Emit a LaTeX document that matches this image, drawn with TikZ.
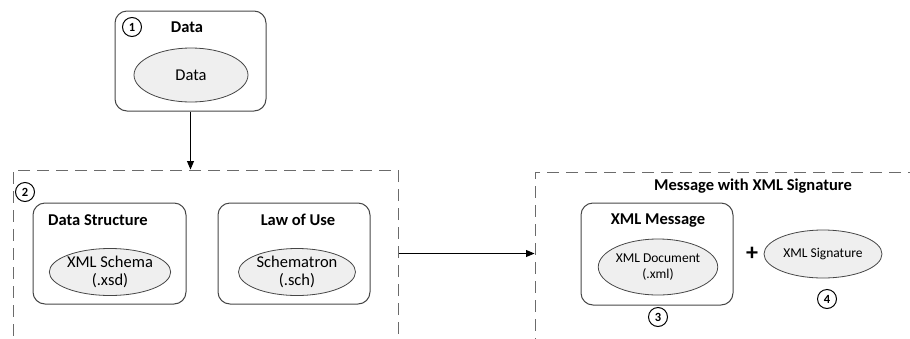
\documentclass[tikz,border=0pt]{standalone}
\usepackage{fontspec}
\setmainfont{Carlito}
\usetikzlibrary{shapes,arrows,positioning,calc}
\definecolor{linegray}{RGB}{70,70,70}
\definecolor{ellfill}{RGB}{239,239,239}

\begin{document}
\begin{tikzpicture}[
        x=1pt, y=-1pt,
        box/.style={rectangle, rounded corners=12pt, draw=linegray, line width=1pt, inner sep=0pt},
        frame/.style={rectangle, draw=linegray!80, line width=1pt, dash pattern=on 12pt off 7pt, inner sep=0pt},
        part/.style={ellipse, draw=linegray, fill=ellfill, line width=0.8pt, inner sep=0pt, align=center, font=\fontsize{16.5}{18.5}\selectfont},
        title/.style={font=\bfseries\fontsize{16.5}{18.5}\selectfont},
        num/.style={circle, draw=black, line width=1pt, minimum size=19pt, inner sep=0pt, font=\bfseries\fontsize{12.5}{13}\selectfont},
        arrow/.style={-triangle 45, line width=0.9pt}
    ]
        \useasboundingbox (0,0) rectangle (910,338);
        \clip (0,0) rectangle (910,338);

        % step 1: input data
        \node[box, minimum width=151pt, minimum height=100pt] (data) at (190.5,61) {};
        \node[num] (n1) at (132,27) {1};
        \node[title] (datatitle) at (187,27) {Data};
        \node[part, minimum width=114pt, minimum height=54pt] (dataell) at (191,75) {Data};

        % step 2: schema and rules
        \node[frame, minimum width=385pt, minimum height=178pt] (frame2) at (205.5,259) {};
        \node[num] (n2) at (25,192) {2};
        \node[box, minimum width=153pt, minimum height=101pt] (struct) at (109.5,253.5) {};
        \node[title] (structtitle) at (98,220) {Data Structure};
        \node[part, minimum width=117pt, minimum height=47pt] (xsd) at (110,272) {XML Schema\\(.xsd)};
        \node[box, minimum width=152pt, minimum height=101pt] (law) at (294,253.5) {};
        \node[title] (lawtitle) at (298,220) {Law of Use};
        \node[part, minimum width=117pt, minimum height=47pt] (sch) at (297,272) {Schematron\\(.sch)};

        % step 3 and 4: signed message
        \node[frame, minimum width=390pt, minimum height=175pt] (frame3) at (730,259.5) {};
        \node[title] (msgtitle) at (753,186) {Message with XML Signature};
        \node[box, minimum width=152pt, minimum height=102pt] (msg) at (657,254) {};
        \node[title] (msgboxtitle) at (658,221) {XML Message};
        \node[part, minimum width=116pt, minimum height=56pt, font=\fontsize{13.5}{16}\selectfont] (xml) at (658,267) {XML Document\\(.xml)};
        \node[font=\bfseries\fontsize{24}{24}\selectfont] (plus) at (752,254) {+};
        \node[part, minimum width=118pt, minimum height=48pt, font=\fontsize{13.5}{16}\selectfont] (sig) at (823,254) {XML Signature};
        \node[num] (n3) at (658,317) {3};
        \node[num] (n4) at (827,299) {4};

        \draw[arrow] (data) -- (data |- frame2.north);
        \draw[arrow] (frame2.east |- law) -- (frame3.west |- law);

    \end{tikzpicture}
\end{document}
